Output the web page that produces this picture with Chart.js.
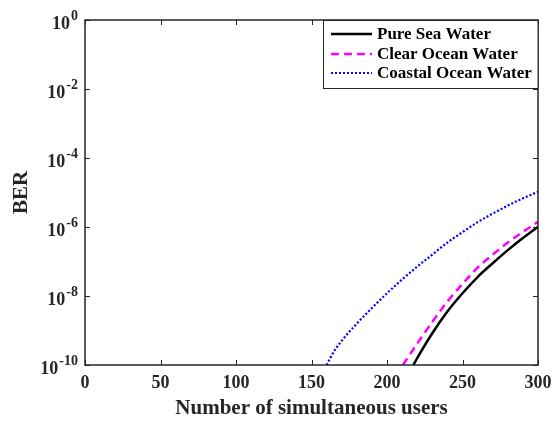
<!DOCTYPE html>
<html>
<head>
<meta charset="utf-8">
<script src="https://cdn.jsdelivr.net/npm/chart.js@4/dist/chart.umd.min.js"></script>
<style>
  html, body { margin: 0; padding: 0; background: #ffffff; }
  canvas { display: block; }
</style>
</head>
<body>
<canvas id="c" width="556" height="424"></canvas>
<script>
// ---- data ----
const xTickValues = [0, 50, 100, 150, 200, 250, 300];
const yTickExponents = [-10, -8, -6, -4, -2, 0];

const seriesLabels = ['Pure Sea Water', 'Clear Ocean Water', 'Coastal Ocean Water'];

const usersPure = [217.5, 220, 230, 240, 250, 260, 270, 280, 290, 300];
const berPure   = [1e-10, 1.58e-10, 8.32e-10, 3.55e-9, 1.20e-8, 3.55e-8, 8.91e-8, 2.14e-7, 4.79e-7, 1.02e-6];

const usersClear = [210.5, 220, 230, 240, 250, 260, 270, 280, 290, 300];
const berClear   = [1e-10, 4.17e-10, 1.78e-9, 6.92e-9, 2.24e-8, 6.61e-8, 1.58e-7, 3.55e-7, 7.24e-7, 1.41e-6];

const usersCoastal = [160, 165, 170, 180, 190, 200, 210, 220, 230, 240, 250, 260, 270, 280, 290, 300];
const berCoastal   = [1e-10, 2.51e-10, 5.01e-10, 1.58e-9, 4.47e-9, 1.20e-8, 3.02e-8, 7.08e-8, 1.58e-7, 3.55e-7, 7.08e-7, 1.38e-6, 2.45e-6, 4.17e-6, 6.76e-6, 1.05e-5];

const toPoints = (xs, ys) => xs.map((x, i) => ({ x: x, y: ys[i] }));

const AXIS_COLOR = '#262626';
const FONT = "'Liberation Serif', 'Times New Roman', serif";

const axesPlugin = {
  id: 'matlabAxes',
  afterDraw(chart) {
    const ctx = chart.ctx;
    const a = chart.chartArea;
    const xs = chart.scales.x, ys = chart.scales.y;
    ctx.save();
    // tick marks (inward, all four sides)
    ctx.strokeStyle = AXIS_COLOR;
    ctx.lineWidth = 1;
    const tl = 5;
    xTickValues.forEach(v => {
      const px = Math.round(xs.getPixelForValue(v)) + 0.5;
      ctx.beginPath();
      ctx.moveTo(px, a.bottom); ctx.lineTo(px, a.bottom - tl);
      ctx.moveTo(px, a.top); ctx.lineTo(px, a.top + tl);
      ctx.stroke();
    });
    yTickExponents.forEach(e => {
      const py = Math.round(ys.getPixelForValue(Math.pow(10, e))) + 0.5;
      ctx.beginPath();
      ctx.moveTo(a.left, py); ctx.lineTo(a.left + tl, py);
      ctx.moveTo(a.right, py); ctx.lineTo(a.right - tl, py);
      ctx.stroke();
    });
    // box
    ctx.lineWidth = 1.5;
    ctx.strokeRect(a.left, a.top, a.right - a.left, a.bottom - a.top);

    // y tick labels with superscript exponents
    ctx.fillStyle = AXIS_COLOR;
    ctx.textBaseline = 'middle';
    yTickExponents.forEach(e => {
      const py = ys.getPixelForValue(Math.pow(10, e));
      const exp = e === 0 ? '0' : '-' + String(-e);
      const rightX = 78;
      ctx.font = 'bold 14px ' + FONT;
      ctx.textAlign = 'right';
      ctx.fillText(exp, rightX, py - 4);
      const w = ctx.measureText(exp).width;
      ctx.font = 'bold 18px ' + FONT;
      ctx.fillText('10', rightX - w - 1, py + 4);
    });

    // legend
    const lx = 323, ly = a.top, lw = a.right - lx, lh = 68;
    ctx.fillStyle = '#ffffff';
    ctx.fillRect(lx, ly, lw, lh);
    ctx.lineWidth = 1;
    ctx.strokeStyle = AXIS_COLOR;
    ctx.strokeRect(lx + 0.5, ly + 0.5, lw - 0.5, lh);
    const rowsY = [34, 54, 73];
    chart.data.datasets.forEach((ds, i) => {
      const y = rowsY[i];
      ctx.save();
      ctx.strokeStyle = ds.borderColor;
      ctx.lineWidth = ds.borderWidth;
      ctx.setLineDash(ds.borderDash || []);
      ctx.beginPath();
      ctx.moveTo(331, y); ctx.lineTo(372, y);
      ctx.stroke();
      ctx.restore();
      ctx.fillStyle = '#000000';
      ctx.font = 'bold 17px ' + FONT;
      ctx.textAlign = 'left';
      ctx.textBaseline = 'middle';
      ctx.fillText(ds.label, 377, y + 1);
    });
    ctx.restore();
  }
};

new Chart(document.getElementById('c'), {
  type: 'line',
  data: {
    datasets: [
      {
        label: seriesLabels[0],
        data: toPoints(usersPure, berPure),
        borderColor: '#000000',
        borderWidth: 2.5,
        pointRadius: 0,
        fill: false,
        cubicInterpolationMode: 'monotone'
      },
      {
        label: seriesLabels[1],
        data: toPoints(usersClear, berClear),
        borderColor: '#ff00ff',
        borderWidth: 2.5,
        borderDash: [8, 5],
        pointRadius: 0,
        fill: false,
        cubicInterpolationMode: 'monotone'
      },
      {
        label: seriesLabels[2],
        data: toPoints(usersCoastal, berCoastal),
        borderColor: '#0000ff',
        borderWidth: 2.2,
        borderDash: [2, 2],
        pointRadius: 0,
        fill: false,
        cubicInterpolationMode: 'monotone'
      }
    ]
  },
  options: {
    responsive: false,
    animation: false,
    devicePixelRatio: 1,
    layout: { padding: { top: 20, right: 18, left: 0, bottom: 0 } },
    plugins: { legend: { display: false }, tooltip: { enabled: false } },
    scales: {
      x: {
        type: 'linear',
        min: 0, max: 300,
        afterBuildTicks: s => { s.ticks = xTickValues.map(v => ({ value: v })); },
        afterFit: s => { s.height = 59; s.paddingLeft = 0; s.paddingRight = 0; },
        grid: { display: false, drawTicks: false },
        border: { display: false },
        ticks: { color: AXIS_COLOR, font: { family: FONT, size: 18, weight: 'bold' }, padding: 8, maxRotation: 0 },
        title: { display: true, text: 'Number of simultaneous users', color: AXIS_COLOR,
                 font: { family: FONT, size: 21, weight: 'bold' }, padding: { top: 0, bottom: 3 } }
      },
      y: {
        type: 'logarithmic',
        min: 1e-10, max: 1,
        afterBuildTicks: s => { s.ticks = yTickExponents.map(e => ({ value: Math.pow(10, e) })); },
        afterFit: s => { s.width = 85; s.paddingTop = 0; s.paddingBottom = 0; },
        grid: { display: false, drawTicks: false },
        border: { display: false },
        ticks: { display: false },
        title: { display: true, text: 'BER', color: AXIS_COLOR,
                 font: { family: FONT, size: 21, weight: 'bold' }, padding: { top: 9, bottom: 0 } }
      }
    }
  },
  plugins: [axesPlugin]
});
</script>
</body>
</html>
